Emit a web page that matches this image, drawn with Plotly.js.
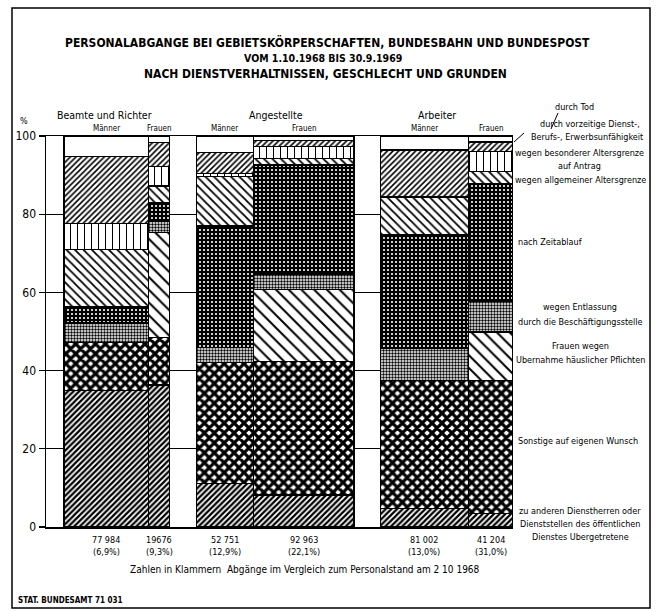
<!DOCTYPE html>
<html>
<head>
<meta charset="utf-8">
<script src="https://cdn.plot.ly/plotly-3.0.1.min.js"></script>
<style>html,body{margin:0;padding:0;background:#fff;}#chart{width:658px;height:611px;}</style>
</head>
<body>
<div id="chart"></div>
<script>
// ---- data ----
const groups = ["Beamte und Richter", "Angestellte", "Arbeiter"];
const sexes = ["Männer", "Frauen", "Männer", "Frauen", "Männer", "Frauen"];
const counts = [77984, 19676, 52751, 92963, 81002, 41204];
const countLabels = ["77 984", "19676", "52 751", "92 963", "81 002", "41 204"];
const shareLabels = ["(6,9%)", "(9,3%)", "(12,9%)", "(22,1%)", "(13,0%)", "(31,0%)"];

// percentages, bottom to top of each column
const zuAnderen  = [35.0, 36.3, 11.2,  8.2,  4.8,  3.5];
const sonstige   = [12.1, 12.2, 30.9, 34.2, 32.6, 34.0];
const haeuslich  = [null, 26.8, null, 18.4, null, 12.4];
const entlassung = [ 5.1,  2.8,  3.8,  3.9,  8.3,  7.7];
const zeitablauf = [ 4.1,  4.8, 31.1, 27.9, 29.0, 30.3];
const allgemein  = [14.7,  4.3, 12.6,  1.7,  9.6,  3.0];
const besondere  = [ 6.7,  5.0,  0.8,  3.0,  0.3,  5.1];
const vorzeitig  = [17.0,  6.1,  5.3,  1.5, 11.8,  2.5];
const tod        = [ 5.3,  1.7,  4.3,  1.2,  3.6,  1.5];

const reasonNames = [
  "zu anderen Dienstherren oder Dienststellen des öffentlichen Dienstes Übergetretene",
  "Sonstige auf eigenen Wunsch",
  "Frauen wegen Übernahme häuslicher Pflichten",
  "wegen Entlassung durch die Beschäftigungsstelle",
  "nach Zeitablauf",
  "wegen allgemeiner Altersgrenze",
  "wegen besonderer Altersgrenze auf Antrag",
  "durch vorzeitige Dienst-, Berufs-, Erwerbsunfähigkeit",
  "durch Tod"
];
const series = [zuAnderen, sonstige, haeuslich, entlassung, zeitablauf, allgemein, besondere, vorzeitig, tod];

// ---- layout constants ----
const LEFTCOL = 16500, GAP = 24500;
const FONT = "'Liberation Sans Narrow', 'DejaVu Sans Condensed', 'Arial Narrow', 'Liberation Sans', sans-serif";

// bar centres computed from the counts (variable-width columns)
const xs = [];
let cur = LEFTCOL;
for (let i = 0; i < counts.length; i++) {
  if (i === 2 || i === 4) cur += GAP;
  xs.push(cur + counts[i] / 2);
  cur += counts[i];
}
const xEnd = cur;

const patterns = [
  {shape: "/",  fgcolor: "black", bgcolor: "white", size: 4, solidity: 0.55},
  {shape: "x",  fgcolor: "black", bgcolor: "white", size: 7, solidity: 0.7},
  {shape: "\\", fgcolor: "black", bgcolor: "white", size: 9, solidity: 0.22},
  {shape: ".",  fgcolor: "black", bgcolor: "white", size: 3, solidity: 0.5},
  {shape: ".",  fgcolor: "white", bgcolor: "black", size: 4, solidity: 0.22},
  {shape: "\\", fgcolor: "black", bgcolor: "white", size: 6, solidity: 0.3},
  {shape: "|",  fgcolor: "black", bgcolor: "white", size: 7, solidity: 0.15},
  {shape: "/",  fgcolor: "black", bgcolor: "white", size: 4, solidity: 0.4},
  {shape: "",   fgcolor: "black", bgcolor: "white", size: 8, solidity: 0.1}
];

const traces = series.map((vals, k) => ({
  type: "bar",
  name: reasonNames[k],
  x: xs,
  y: vals,
  width: counts,
  marker: {color: "white", line: {color: "black", width: 1.3}, pattern: patterns[k]},
  hoverinfo: "name+y"
}));

// pixel helpers (plot area: x 46..513, y 136..527)
const PL = 46, PR = 513, PT = 136, PB = 527;
const px = v => (v - PL) / (PR - PL);
const py = v => (PB - v) / (PB - PT);

const ann = [];
function txt(x, y, text, size, opts) {
  ann.push(Object.assign({xref: "paper", yref: "paper", x: px(x), y: py(y), text: text,
    showarrow: false, xanchor: "center", yanchor: "middle",
    font: {family: FONT, size: size, color: "black"}}, opts || {}));
}
function btxt(x, y, text, size) {
  txt(x, y, text, size, {font: {family: FONT, size: size, color: "black", weight: "bold"}});
}
// titles
btxt(327, 42, "PERSONALABGANGE BEI GEBIETSKÖRPERSCHAFTEN, BUNDESBAHN UND BUNDESPOST", 12);
btxt(323, 58, "VOM 1.10.1968 BIS 30.9.1969", 10.5);
btxt(325, 74, "NACH DIENSTVERHALTNISSEN, GESCHLECHT UND GRUNDEN", 12);
// group labels
txt(104, 115, groups[0], 10.5);
txt(276, 115, groups[1], 10.5);
txt(437, 115, groups[2], 10.5);
txt(24, 121, "%", 9);
// column labels top and bottom
for (let i = 0; i < counts.length; i++) {
  ann.push({xref: "x", yref: "paper", x: xs[i], y: py(128), text: sexes[i], showarrow: false,
    yanchor: "middle", font: {family: FONT, size: 8, color: "black"}});
  ann.push({xref: "x", yref: "paper", x: xs[i], y: py(540), text: countLabels[i], showarrow: false,
    yanchor: "middle", font: {family: FONT, size: 9, color: "black"}});
  ann.push({xref: "x", yref: "paper", x: xs[i], y: py(552), text: shareLabels[i], showarrow: false,
    yanchor: "middle", font: {family: FONT, size: 9, color: "black"}});
}
txt(305, 569, "Zahlen in Klammern  Abgänge im Vergleich zum Personalstand am 2 10 1968", 10);
txt(16, 600, "STAT. BUNDESAMT 71 031", 8, {xanchor: "left", font: {family: FONT, size: 8, color: "black", weight: "bold"}});
// legend texts on the right
txt(574, 107, "durch Tod", 9);
txt(590, 124, "durch vorzeitige Dienst-,", 9);
txt(587, 137, "Berufs-, Erwerbsunfähigkeit", 9);
txt(579, 153, "wegen besonderer Altersgrenze", 9);
txt(579, 166, "auf Antrag", 9);
txt(580, 180, "wegen allgemeiner Altersgrenze", 9);
txt(516, 242, "nach Zeitablauf", 9, {xanchor: "left"});
txt(580, 307, "wegen Entlassung", 9);
txt(580, 322, "durch die Beschäftigungsstelle", 9);
txt(580, 346, "Frauen wegen", 9);
txt(580, 360, "Ubernahme häuslicher Pflichten", 9);
txt(516, 441, "Sonstige auf eigenen Wunsch", 9, {xanchor: "left"});
txt(580, 511, "zu anderen Dienstherren oder", 9);
txt(580, 524, "Dienststellen des öffentlichen", 9);
txt(580, 537, "Dienstes Ubergetretene", 9);

const shapes = [
  {type: "rect", xref: "paper", yref: "paper", x0: px(12), x1: px(650), y0: py(608), y1: py(8),
    line: {color: "black", width: 1.5}},
  {type: "line", xref: "paper", yref: "paper", x0: px(558), y0: py(113), x1: px(551), y1: py(129),
    line: {color: "black", width: 1}},
  {type: "line", xref: "paper", yref: "paper", x0: px(524), y0: py(133), x1: px(514), y1: py(142),
    line: {color: "black", width: 1}}
];

const layout = {
  width: 658, height: 611,
  margin: {l: PL, r: 658 - PR, t: PT, b: 611 - PB, pad: 0},
  paper_bgcolor: "white", plot_bgcolor: "white",
  barmode: "stack",
  showlegend: false,
  font: {family: FONT, color: "black"},
  xaxis: {range: [0, xEnd], showticklabels: false, ticks: "", showgrid: false, zeroline: false,
    showline: true, mirror: true, linecolor: "black", linewidth: 1.5, fixedrange: true},
  yaxis: {range: [0, 100], tickvals: [0, 20, 40, 60, 80, 100], ticks: "outside", ticklen: 6,
    tickcolor: "black", tickwidth: 1.2, showgrid: true, gridcolor: "black", gridwidth: 1.2,
    zeroline: false, showline: true, linecolor: "black", linewidth: 1.5,
    tickfont: {family: FONT, size: 12, color: "black"}, fixedrange: true},
  annotations: ann,
  shapes: shapes
};

Plotly.newPlot("chart", traces, layout, {displayModeBar: false, staticPlot: true});
</script>
</body>
</html>
